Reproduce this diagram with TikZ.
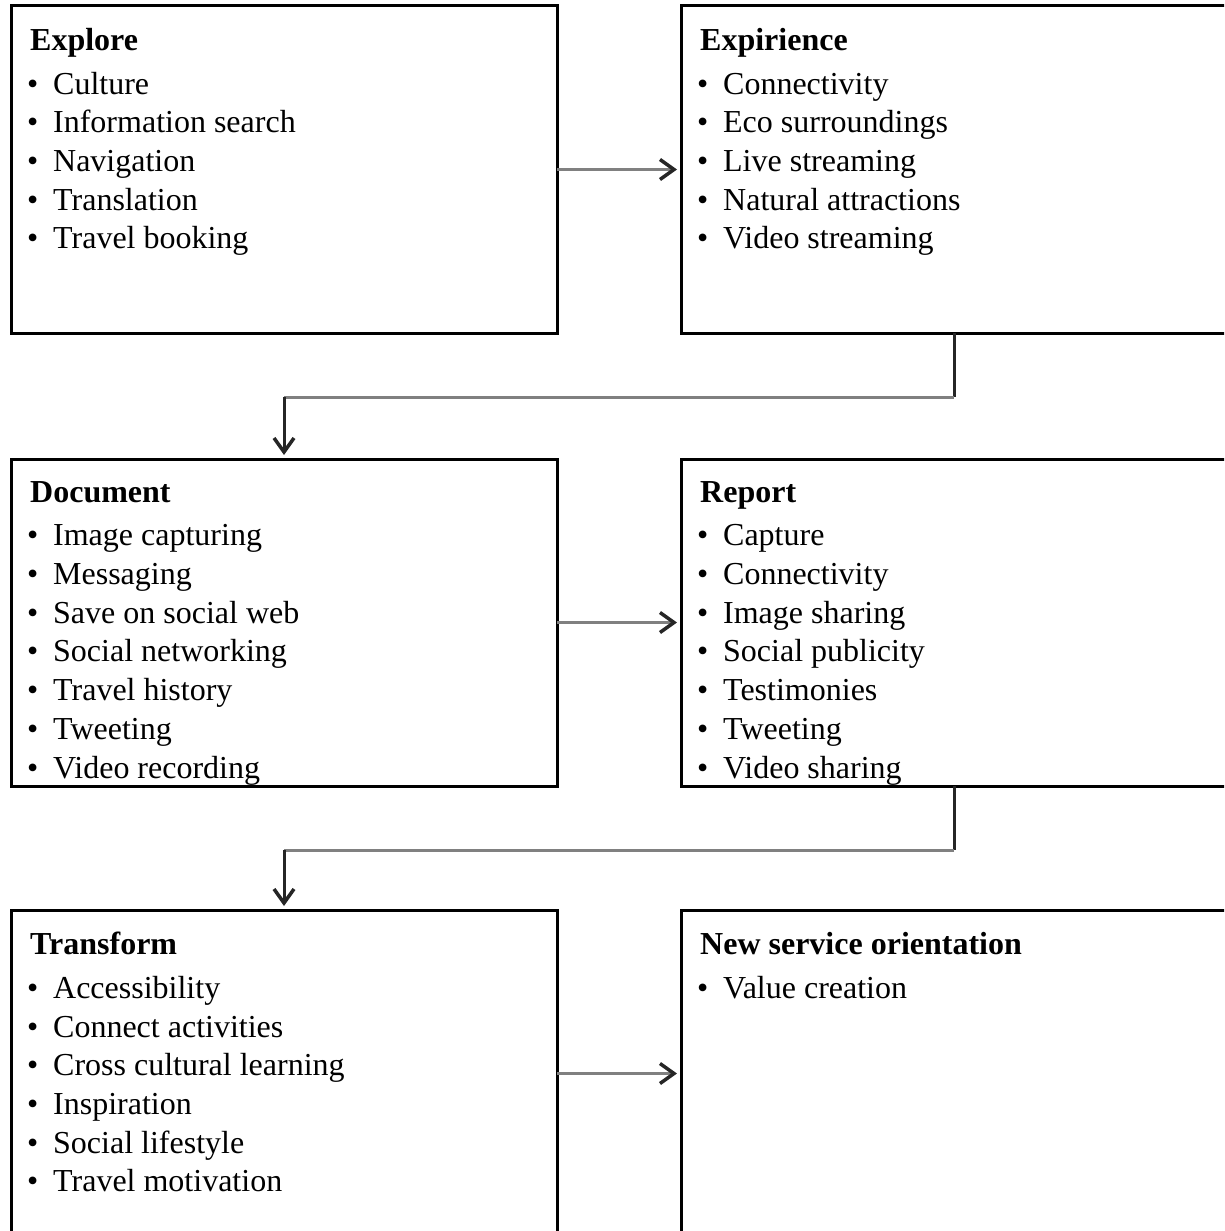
\documentclass[tikz,border=0pt]{standalone}
\usepackage{fontspec}
\setmainfont{Liberation Serif}
\usetikzlibrary{positioning,arrows.meta}

\newcommand{\bul}{\hspace*{-3pt}\makebox[26pt][l]{\textbullet}}

\begin{document}
\begin{tikzpicture}[
  box/.style={draw, line width=3pt, minimum width=546pt, minimum height=327pt, inner sep=0pt, outer sep=0pt},
  items/.style={anchor=north west, align=left, inner sep=0pt, font=\fontsize{32}{38.7}\selectfont},
  flow/.style={draw=black!50, line width=3pt},
  stem/.style={draw=black!85, line width=3pt},
  headed/.style={-{Straight Barb[length=14pt,width=20pt,line width=3.5pt,color=black!85]}, shorten >=4pt}
 ]
 \useasboundingbox (0,0) rectangle (1224pt,-1231pt);
 \clip (0,0) rectangle (1224pt,-1231pt);

 % boxes
 \node[box, anchor=north west] (explore) at (11pt,-6pt) {};
 \node[box, right=124pt of explore] (expirience) {};
 \node[box, below=126pt of explore] (document) {};
 \node[box, right=124pt of document] (report) {};
 \node[box, below=124pt of document] (transform) {};
 \node[box, right=124pt of transform] (neworient) {};

 % lists
 \node[items] (explore-list) at ([shift={(19pt,-22pt)}]explore.north west)
  {\textbf{Explore}\\[5pt]
   \bul Culture\\
   \bul Information search\\
   \bul Navigation\\
   \bul Translation\\
   \bul Travel booking};
 \node[items] (expirience-list) at ([shift={(19pt,-22pt)}]expirience.north west)
  {\textbf{Expirience}\\[5pt]
   \bul Connectivity\\
   \bul Eco surroundings\\
   \bul Live streaming\\
   \bul Natural attractions\\
   \bul Video streaming};
 \node[items] (document-list) at ([shift={(19pt,-22pt)}]document.north west)
  {\textbf{Document}\\[5pt]
   \bul Image capturing\\
   \bul Messaging\\
   \bul Save on social web\\
   \bul Social networking\\
   \bul Travel history\\
   \bul Tweeting\\
   \bul Video recording};
 \node[items] (report-list) at ([shift={(19pt,-22pt)}]report.north west)
  {\textbf{Report}\\[5pt]
   \bul Capture\\
   \bul Connectivity\\
   \bul Image sharing\\
   \bul Social publicity\\
   \bul Testimonies\\
   \bul Tweeting\\
   \bul Video sharing};
 \node[items] (transform-list) at ([shift={(19pt,-22pt)}]transform.north west)
  {\textbf{Transform}\\[5pt]
   \bul Accessibility\\
   \bul Connect activities\\
   \bul Cross cultural learning\\
   \bul Inspiration\\
   \bul Social lifestyle\\
   \bul Travel motivation};
 \node[items] (neworient-list) at ([shift={(19pt,-22pt)}]neworient.north west)
  {\textbf{New service orientation}\\[5pt]
   \bul Value creation};

 % arrows
 \draw[flow, headed] (explore) -- (expirience);
 \draw[flow, headed] (document) -- (report);
 \draw[flow, headed] (transform) -- (neworient);

 \coordinate[below=64pt of expirience.south] (bendA);
 \coordinate (bendB) at (document.north |- bendA);
 \draw[stem] (expirience.south) -- (bendA);
 \draw[flow] (bendA) -- (bendB);
 \draw[stem, headed] (bendB) -- (document.north);

 \coordinate[below=64pt of report.south] (bendC);
 \coordinate (bendD) at (transform.north |- bendC);
 \draw[stem] (report.south) -- (bendC);
 \draw[flow] (bendC) -- (bendD);
 \draw[stem, headed] (bendD) -- (transform.north);
\end{tikzpicture}
\end{document}
